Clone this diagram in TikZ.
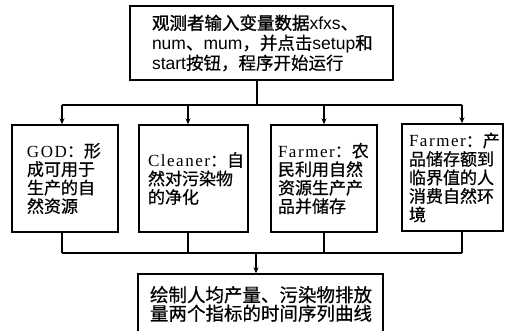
\documentclass[tikz,border=0pt]{standalone}
\usepackage{fontspec}
\setmainfont[LetterSpace=9]{Liberation Serif}
\newfontfamily\cjk[FakeBold=0.6]{Noto Sans CJK SC}
\newfontfamily\cjkbold[FakeBold=1.4]{Noto Sans CJK SC}
\newfontfamily\latinsans{Liberation Sans}
\usetikzlibrary{arrows.meta}

\begin{document}
\begin{tikzpicture}[x=1pt,y=-1pt,
        box/.style={draw,line width=1.4pt,inner ysep=0pt,align=left,
            minimum height=107pt,font=\fontsize{17}{18.5}\selectfont},
        link/.style={line width=1.1pt},
        arrow/.style={link,-{Stealth[length=6pt,width=5pt]}}]
    \useasboundingbox (0,0) rectangle (519,331);
    \node[box,text width=219pt,inner xsep=22pt,minimum height=74pt,
        font=\fontsize{17.5}{20}\selectfont\latinsans] (start) at (261.5,43)
        {{\cjkbold 观测者输入变量数据}xfxs{\cjk 、}\\
         num{\cjk 、}mum{\cjk ，并点击}setup{\cjkbold 和}\\
         start{\cjk 按钮，程序开始运行}};
    \node[box,text width=76pt,inner xsep=15pt] (god) at (65,178.5)
        {GOD{\cjk ：形}\\{\cjk 成可用于}\\{\cjk 生产的自}\\{\cjk 然资源}};
    \node[box,text width=91pt,inner xsep=9pt] (cleaner) at (193.5,178.5)
        {Cleaner{\cjk ：自}\\{\cjk 然对污染物}\\{\cjk 的净化}};
    \node[box,text width=92pt,inner xsep=7pt] (farmer) at (324,178.5)
        {Farmer{\cjk ：农}\\{\cjk 民利用自然}\\{\cjk 资源生产产}\\{\cjk 品并储存}};
    \node[box,text width=87pt,inner xsep=7pt] (consumer) at (452.5,177.5)
        {Farmer{\cjk ：产}\\{\cjk 品储存额到}\\{\cjk 临界值的人}\\{\cjk 消费自然环}\\{\cjk 境}};
    \node[box,text width=221pt,inner xsep=12pt,minimum height=60pt,
        font=\fontsize{18.5}{18.5}\selectfont] (curve) at (260.5,304)
        {{\cjk 绘制人均产量、污染物排放}\\{\cjk 量两个指标的时间序列曲线}};

    \coordinate (split) at (257,105);
    \coordinate (join) at (256,253);
    \coordinate (c1) at (62,105);
    \coordinate (c2) at (188,105);
    \coordinate (c3) at (324,105);
    \coordinate (c4) at (462,105);

    \draw[link] (split |- start.south) -- (split);
    \draw[link] (c1) -- (c4);
    \foreach \n/\c in {god/c1,cleaner/c2,farmer/c3,consumer/c4} {
        \draw[arrow] (\c) -- (\c |- \n.north);
        \draw[link] (\c |- \n.south) -- (\c |- join);
    }
    \draw[link] (c1 |- join) -- (c4 |- join);
    \draw[arrow] (join) -- (join |- curve.north);
\end{tikzpicture}
\end{document}
